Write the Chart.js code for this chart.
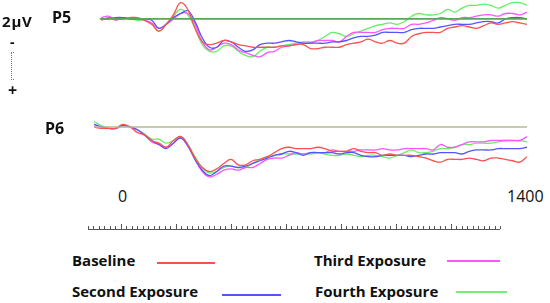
<!DOCTYPE html>
<html>
<head>
<meta charset="utf-8">
<script src="https://cdn.jsdelivr.net/npm/chart.js@4.4.0/dist/chart.umd.min.js"></script>
<style>
  body { margin: 0; background: #fff; }
  #wrap { position: relative; width: 550px; height: 303px; overflow: hidden; font-family: "Open Sans", sans-serif; color: #111; }
  canvas { position: absolute; left: 0; }
  .t { position: absolute; line-height: 1; white-space: nowrap; }
  .b { font-weight: bold; }
  .key { position: absolute; height: 1.5px; }
</style>
</head>
<body>
<div id="wrap">
  <canvas id="p5" width="550" height="81" style="top:0px"></canvas>
  <canvas id="p6" width="550" height="81" style="top:100px"></canvas>
  <canvas id="ruler" width="550" height="20" style="top:210px"></canvas>

  <div class="t b" style="left:2px;top:14px;font-size:15px;letter-spacing:0.8px">2µV</div>
  <div class="t b" style="left:52px;top:9px;font-size:16px">P5</div>
  <div class="t b" style="left:10px;top:35px;font-size:14px">-</div>
  <div style="position:absolute;left:11px;top:52px;width:2px;height:26px;border:1px dotted #777;border-right:none"></div>
  <div class="t b" style="left:8px;top:82px;font-size:16px">+</div>
  <div class="t b" style="left:45px;top:120px;font-size:16px">P6</div>
  <div class="t" style="left:118px;top:188px;font-size:16px">0</div>
  <div class="t" style="left:507px;top:188px;font-size:16px">1400</div>

  <div class="t b" style="left:72px;top:253px;font-size:15px">Baseline</div>
  <div class="key" style="left:157px;top:262px;width:58px;background:#ff5050"></div>
  <div class="t b" style="left:314px;top:253px;font-size:15px">Third Exposure</div>
  <div class="key" style="left:447px;top:260px;width:53px;background:#ff55ff"></div>
  <div class="t b" style="left:72px;top:284px;font-size:15px">Second Exposure</div>
  <div class="key" style="left:222px;top:294px;width:59px;background:#5555ff"></div>
  <div class="t b" style="left:315px;top:284px;font-size:15px">Fourth Exposure</div>
  <div class="key" style="left:456px;top:291px;width:51px;background:#77ee77"></div>
</div>

<script>
// time axis (ms), one sample every 25 ms
var times = [-100, -75, -50, -25, 0, 25, 50, 75, 100, 125, 150, 175, 200, 225, 250, 275, 300, 325, 350, 375,
  400, 425, 450, 475, 500, 525, 550, 575, 600, 625, 650, 675, 700, 725, 750, 775, 800, 825, 850, 875,
  900, 925, 950, 975, 1000, 1025, 1050, 1075, 1100, 1125, 1150, 1175, 1200, 1225, 1250, 1275, 1300, 1325, 1350, 1375, 1400];

var seriesNames = ['Baseline', 'Second Exposure', 'Third Exposure', 'Fourth Exposure'];
var seriesColors = ['#ff5050', '#5555ff', '#ff55ff', '#66ee66'];

// P5 (µV, negative up)
var p5Baseline = [null, 0.1, -0.1, 0, 0, -0.1, -0.1, 0.1, 0.4, 0.9, 0.4, -0.3, -1.2, -0.7, 0.7, 1.7, 1.9, 1.8, 1.6, 1.7,
  1.9, 2.0, 2.1, 2.1, 2.1, 2.1, 2.0, 2.0, 1.9, 1.9, 2.2, 2.2, 2.1, 2.1, 2.1, 1.9, 1.8, 1.7, 1.5, 1.7,
  1.8, 1.6, 1.8, 1.8, 1.3, 1.1, 1.0, 1.0, 1.0, 0.7, 0.6, 0.5, 0.6, 0.7, 0.5, 0.3, 0.4, 0.3, 0.2, 0.3, 0.4];
var p5Second = [null, 0, 0, -0.1, -0.1, 0, 0, 0, 0.1, 0.7, 0.4, -0.1, -0.4, -0.6, 0.2, 1.4, 2.1, 2.1, 1.6, 1.7,
  2.1, 2.4, 2.3, 1.9, 1.8, 1.8, 1.7, 1.6, 1.7, 1.8, 1.8, 1.8, 1.8, 1.7, 1.7, 1.6, 1.4, 1.3, 1.3, 1.2,
  1.0, 1.0, 1.0, 1.0, 0.8, 0.7, 0.7, 0.7, 0.6, 0.5, 0.4, 0.4, 0.4, 0.3, 0.2, 0.2, 0.3, 0, -0.1, -0.1, 0];
var p5Third = [null, -0.1, -0.2, 0.1, -0.1, 0, 0, 0.1, 0.3, 0.7, 0.4, 0, -0.4, -0.4, 0.4, 1.7, 2.3, 2.1, 1.8, 1.9,
  2.3, 2.5, 2.7, 2.8, 2.5, 2.4, 2.1, 2.0, 1.9, 1.8, 1.8, 1.6, 1.6, 1.6, 1.7, 1.3, 1.0, 1.0, 1.0, 1.0,
  0.8, 0.7, 0.7, 0.7, 0.4, 0.4, 0.3, 0.1, -0.1, 0, 0.1, -0.1, -0.1, -0.2, -0.3, -0.3, -0.2, -0.4, -0.4, -0.3, -0.5];
var p5Fourth = [null, 0, 0, 0, -0.1, 0, 0.1, 0.1, 0.4, 0.9, 0.4, -0.2, -0.7, -0.3, 0.7, 1.9, 2.4, 2.4, 2.0, 2.0,
  2.4, 2.7, 2.8, 2.4, 2.1, 2.1, 2.0, 1.9, 1.8, 1.7, 1.7, 1.6, 1.3, 1.0, 1.1, 1.3, 1.1, 0.9, 0.7, 0.5,
  0.4, 0.3, 0.4, 0.2, -0.2, -0.4, -0.3, -0.3, -0.4, -0.7, -0.5, -0.8, -1.0, -1.0, -1.1, -1.0, -0.8, -1.0, -1.2, -1.2, -1.0];

// P6 (µV, negative up)
var p6Baseline = [0, 0.1, 0.1, 0.1, -0.2, 0, 0.4, 0.6, 1.0, 1.2, 1.5, 1.0, 0.7, 1.3, 2.3, 3.0, 3.3, 3.1, 2.7, 2.4,
  2.8, 2.8, 2.5, 2.4, 2.2, 1.9, 1.6, 1.5, 1.6, 1.6, 1.6, 1.5, 1.6, 1.8, 1.8, 1.8, 1.6, 1.8, 1.9, 1.9,
  2.1, 2.0, 2.1, 2.1, 2.1, 2.2, 2.3, 2.5, 2.6, 2.4, 2.4, 2.4, 2.3, 2.4, 2.5, 2.3, 2.3, 2.4, 2.5, 2.6, 2.2];
var p6Second = [-0.2, 0, 0.1, 0.1, -0.1, 0, 0.2, 0.6, 1.0, 1.3, 1.6, 1.2, 0.8, 1.4, 2.4, 3.2, 3.6, 3.3, 2.9, 2.9,
  3.0, 2.9, 2.7, 2.5, 2.3, 2.1, 2.0, 1.8, 1.9, 2.1, 1.9, 1.9, 1.9, 1.9, 2.0, 1.9, 1.9, 2.1, 2.2, 2.2,
  2.1, 2.1, 2.1, 2.1, 2.2, 2.1, 2.0, 2.0, 1.9, 1.9, 1.9, 2.0, 1.8, 1.7, 1.7, 1.7, 1.6, 1.6, 1.6, 1.6, 1.5];
var p6Third = [-0.2, 0, 0.1, 0.1, -0.1, 0, 0.2, 0.6, 1.1, 1.3, 1.5, 1.2, 0.8, 1.4, 2.4, 3.3, 3.7, 3.5, 3.2, 3.1,
  3.2, 3.0, 3.0, 2.7, 2.4, 2.3, 2.3, 2.1, 1.9, 2.0, 1.9, 1.9, 1.9, 1.7, 1.8, 1.8, 1.8, 1.7, 1.7, 1.7,
  1.6, 1.7, 1.7, 1.6, 1.6, 1.6, 1.6, 1.7, 1.3, 1.5, 1.5, 1.3, 1.1, 1.1, 1.1, 1.0, 1.0, 1.0, 1.0, 1.0, 0.7];
var p6Fourth = [-0.4, -0.1, 0.1, 0.1, -0.1, 0, 0.2, 0.5, 0.9, 0.9, 1.2, 1.0, 0.7, 1.3, 2.2, 3.0, 3.4, 3.3, 3.0, 2.9,
  3.0, 3.0, 2.7, 2.4, 2.2, 2.1, 2.0, 2.0, 2.0, 2.0, 2.0, 1.9, 2.0, 2.1, 2.1, 2.0, 2.1, 2.2, 2.1, 2.1,
  2.2, 2.3, 2.1, 1.9, 1.7, 1.9, 1.9, 1.8, 1.6, 1.6, 1.5, 1.3, 1.3, 1.2, 1.2, 1.2, 1.1, 1.0, 1.0, 1.0, 1.1];

// zero reference lines: start time of each trace
var p5Start = -80;
var p6Start = -100;

// ruler under the traces
var rulerCount = 75;
var rulerMajorEvery = 10;
var rulerMajorOffset = 6;

function toPoints(vals) {
    return times.map(function (t, i) { return { x: t, y: vals[i] }; });
}

function makePanel(id, lists, start, zeroColor, yMin, yMax) {
    var sets = lists.map(function (vals, i) {
        return {
            label: seriesNames[i],
            data: toPoints(vals),
            borderColor: seriesColors[i],
            borderWidth: 1.3,
            pointRadius: 0,
            tension: 0.4,
            order: 2
        };
    });
    // the zero line
    sets.push({
        label: 'zero',
        data: [{ x: start, y: 0 }, { x: times[times.length - 1], y: 0 }],
        borderColor: zeroColor,
        borderWidth: 1.6,
        pointRadius: 0,
        tension: 0,
        order: 1
    });
    return new Chart(document.getElementById(id), {
        type: 'line',
        data: { datasets: sets },
        options: {
            responsive: false,
            animation: false,
            layout: { padding: { left: 94, right: 23, top: 0, bottom: 0 } },
            plugins: { legend: { display: false }, tooltip: { enabled: false } },
            scales: {
                x: { type: 'linear', min: -100, max: 1400, display: false },
                y: { min: yMin, max: yMax, reverse: true, display: false }
            }
        }
    });
}

makePanel('p5', [p5Baseline, p5Second, p5Third, p5Fourth], p5Start, '#5aa55a', -1.4, 4.6);
makePanel('p6', [p6Baseline, p6Second, p6Third, p6Fourth], p6Start, '#b4b890', -2, 4);

// ruler ticks drawn from the x scale
var rulerPlugin = {
    id: 'rulerTicks',
    afterDraw: function (chart) {
        var s = chart.scales.x;
        var ctx = chart.ctx;
        var yb = chart.chartArea.bottom;
        ctx.save();
        ctx.strokeStyle = '#555';
        ctx.lineWidth = 1;
        ctx.beginPath();
        ctx.moveTo(s.getPixelForValue(0), yb + 0.5);
        ctx.lineTo(s.getPixelForValue(rulerCount), yb + 0.5);
        for (var i = 0; i <= rulerCount; i++) {
            var px = Math.round(s.getPixelForValue(i)) + 0.5;
            var len = (i % rulerMajorEvery === rulerMajorOffset) ? 5 : 3;
            ctx.moveTo(px, yb);
            ctx.lineTo(px, yb - len);
        }
        ctx.stroke();
        ctx.restore();
    }
};

new Chart(document.getElementById('ruler'), {
    type: 'line',
    data: { datasets: [] },
    options: {
        responsive: false,
        animation: false,
        layout: { padding: { left: 88, right: 50, top: 0, bottom: 1 } },
        plugins: { legend: { display: false }, tooltip: { enabled: false } },
        scales: {
            x: { type: 'linear', min: 0, max: rulerCount, display: false },
            y: { display: false }
        }
    },
    plugins: [rulerPlugin]
});
</script>
</body>
</html>
